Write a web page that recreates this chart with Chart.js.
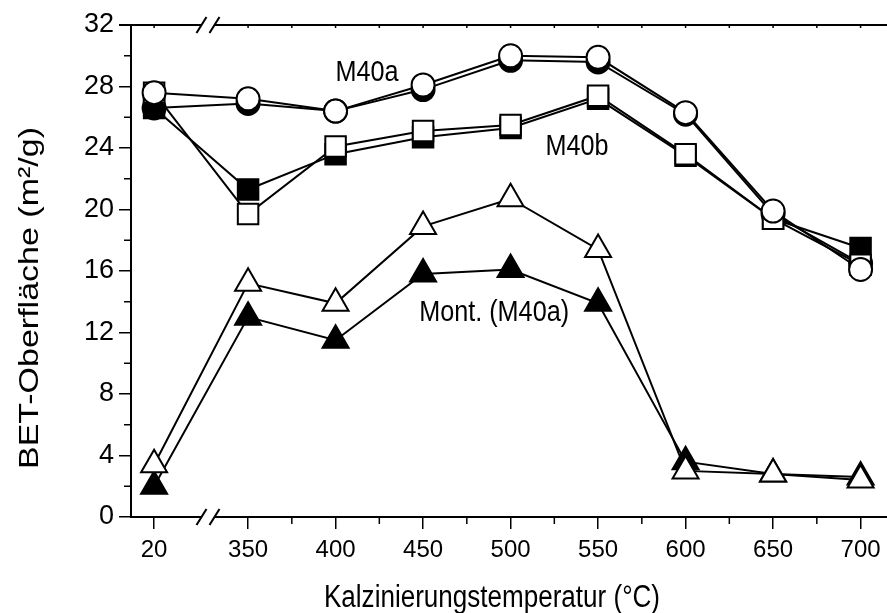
<!DOCTYPE html>
<html>
<head>
<title>BET-Oberfläche</title>
<script src="https://cdn.jsdelivr.net/npm/chart.js@4.4.1/dist/chart.umd.min.js"></script>
<style>
body { margin:0; background:#fff; }
</style>
</head>
<body>
<canvas id="myChart" width="887" height="613"></canvas>
<script>
// temperatures (°C); 20 sits left of the axis break
var temps = [20, 350, 400, 450, 500, 550, 600, 650, 700];
var xTickLabels = ['20', '350', '400', '450', '500', '550', '600', '650', '700'];
var yTicks = [0, 4, 8, 12, 16, 20, 24, 28, 32];

var m40aOpen   = [27.6, 27.2, 26.4, 28.1, 30.0, 29.9, 26.3, 19.9, 16.1];
var m40aFilled = [26.6, 26.9, 26.4, 27.8, 29.7, 29.6, 26.2, 19.7, 16.5];
var m40bOpen   = [27.6, 19.7, 24.1, 25.1, 25.5, 27.4, 23.6, 19.4, 16.4];
var m40bFilled = [26.6, 21.3, 23.6, 24.7, 25.3, 27.2, 23.5, 19.4, 17.5];
var montOpen   = [3.4, 15.2, 13.9, 18.9, 20.7, 17.4, 3.0, 2.8, 2.4];
var montFilled = [2.0, 13.0, 11.5, 15.8, 16.1, 13.9, 3.6, 2.8, 2.6];

// broken axis: 20 is drawn just left of the break, the rest is linear
var BREAK20 = 296.3;
var xMin = 283.1, xMax = 715.1, breakAt = 327.1;
function xPos(t) { return t === 20 ? BREAK20 : t; }

function pts(arr) {
  return temps.map(function (t, i) { return { x: xPos(t), y: arr[i] }; });
}

function ds(label, arr, style, filled, r) {
  return {
    label: label,
    data: pts(arr),
    borderColor: '#000',
    borderWidth: 2,
    pointStyle: style,
    pointRadius: r,
    pointHoverRadius: r,
    pointBorderWidth: 2,
    pointBackgroundColor: filled ? '#000' : '#fff',
    pointBorderColor: '#000',
    showLine: true,
    tension: 0
  };
}

var FONT = "'Liberation Sans', Arial, sans-serif";

// condensed text helper (the original lettering is narrow)
function narrowText(ctx, txt, x, y, sx) {
  ctx.save();
  ctx.translate(x, y);
  ctx.scale(sx, 1);
  ctx.fillText(txt, 0, 0);
  ctx.restore();
}

var decor = {
  id: 'decor',
  afterDraw: function (chart) {
    var ctx = chart.ctx, xs = chart.scales.x, ys = chart.scales.y, a = chart.chartArea;
    ctx.save();
    ctx.strokeStyle = '#000';
    ctx.fillStyle = '#000';
    ctx.lineWidth = 2;
    // top frame line
    ctx.beginPath();
    ctx.moveTo(a.left - 12, a.top);
    ctx.lineTo(a.right, a.top);
    ctx.stroke();
    // minor ticks
    ctx.lineWidth = 1.5;
    for (var v = 375; v <= 675; v += 50) {
      var px = xs.getPixelForValue(v);
      ctx.beginPath(); ctx.moveTo(px, a.bottom); ctx.lineTo(px, a.bottom + 7); ctx.stroke();
    }
    var tops = [BREAK20];
    for (var w = 350; w <= 700; w += 25) tops.push(w);
    tops.forEach(function (v) {
      var px = xs.getPixelForValue(v);
      ctx.beginPath(); ctx.moveTo(px, a.top - 1); ctx.lineTo(px, a.top + 3); ctx.stroke();
    });
    for (var y = 2; y < 32; y += 4) {
      var py = ys.getPixelForValue(y);
      ctx.beginPath(); ctx.moveTo(a.left, py); ctx.lineTo(a.left - 7, py); ctx.stroke();
    }
    // axis break marks
    var bx = xs.getPixelForValue(breakAt);
    [a.top, a.bottom].forEach(function (yy) {
      ctx.fillStyle = '#fff';
      ctx.fillRect(bx - 6, yy - 2, 12, 4);
      ctx.lineWidth = 2;
      [-6.5, 6.5].forEach(function (d) {
        ctx.beginPath();
        ctx.moveTo(bx + d - 5, yy + 8);
        ctx.lineTo(bx + d + 5, yy - 8);
        ctx.stroke();
      });
    });
    // series labels
    ctx.fillStyle = '#000';
    ctx.font = '30px ' + FONT;
    ctx.textAlign = 'center';
    ctx.textBaseline = 'middle';
    narrowText(ctx, 'M40a', xs.getPixelForValue(418), ys.getPixelForValue(28.9), 0.84);
    narrowText(ctx, 'M40b', xs.getPixelForValue(538), ys.getPixelForValue(24.1), 0.84);
    narrowText(ctx, 'Mont. (M40a)', xs.getPixelForValue(490.6), ys.getPixelForValue(13.3), 0.84);
    // axis titles
    ctx.font = '31px ' + FONT;
    narrowText(ctx, 'Kalzinierungstemperatur (°C)', 492, 598, 0.84);
    ctx.save();
    ctx.translate(30, 298);
    ctx.rotate(-Math.PI / 2);
    ctx.scale(1, 0.84);
    ctx.font = '34px ' + FONT;
    ctx.fillText('BET-Oberfläche (m²/g)', 0, 0);
    ctx.restore();
    ctx.restore();
  }
};

var ctx = document.getElementById('myChart').getContext('2d');
var chart = new Chart(ctx, {
  type: 'scatter',
  data: {
    datasets: [
      ds('M40a open', m40aOpen, 'circle', false, 11.5),
      ds('M40b open', m40bOpen, 'rect', false, 14.5),
      ds('Mont open', montOpen, 'triangle', false, 15),
      ds('M40a filled', m40aFilled, 'circle', true, 11.5),
      ds('M40b filled', m40bFilled, 'rect', true, 14.5),
      ds('Mont filled', montFilled, 'triangle', true, 15)
    ]
  },
  options: {
    responsive: false,
    animation: false,
    layout: { autoPadding: false, padding: { top: 25, right: 0, left: 0, bottom: 0 } },
    plugins: { legend: { display: false }, tooltip: { enabled: false } },
    scales: {
      x: {
        type: 'linear',
        min: xMin,
        max: xMax,
        afterBuildTicks: function (s) {
          s.ticks = temps.map(function (t) { return { value: xPos(t) }; });
        },
        afterFit: function (s) { s.height = 96; s.paddingLeft = 0; s.paddingRight = 0; },
        ticks: {
          autoSkip: false,
          maxRotation: 0,
          color: '#000',
          padding: 7,
          font: { family: FONT, size: 24 },
          callback: function (v) {
            var i = temps.map(xPos).indexOf(v);
            return i >= 0 ? xTickLabels[i] : '';
          }
        },
        grid: { drawOnChartArea: false, drawTicks: true, tickLength: 12, color: '#000', lineWidth: 1.5 },
        border: { display: true, color: '#000', width: 2 }
      },
      y: {
        min: 0,
        max: 32,
        afterBuildTicks: function (s) {
          s.ticks = yTicks.map(function (v) { return { value: v }; });
        },
        afterFit: function (s) { s.width = 131; s.paddingTop = 0; s.paddingBottom = 0; },
        ticks: {
          color: '#000',
          padding: 5,
          font: { family: FONT, size: 27 }
        },
        grid: { drawOnChartArea: false, drawTicks: true, tickLength: 12, color: '#000', lineWidth: 1.5 },
        border: { display: true, color: '#000', width: 2 }
      }
    }
  },
  plugins: [decor]
});
</script>
</body>
</html>
